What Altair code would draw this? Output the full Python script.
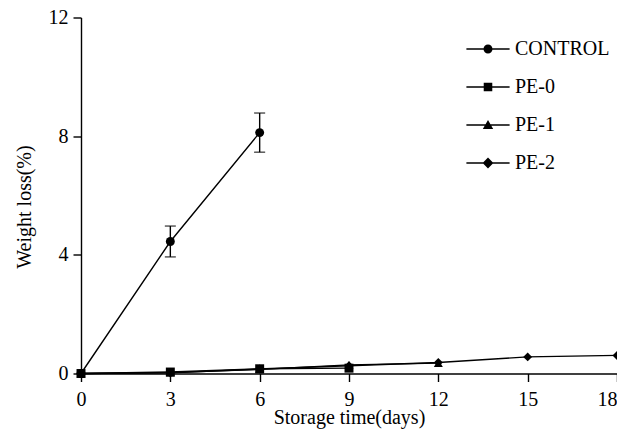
import altair as alt
import pandas as pd

# ---- data ----
series_names = ["CONTROL", "PE-0", "PE-1", "PE-2"]

control_days = [0, 3, 6]
control_loss = [0.0, 4.45, 8.12]
control_err = [0.0, 0.52, 0.66]

pe0_days = [0, 3, 6, 9]
pe0_loss = [0.0, 0.05, 0.16, 0.18]

pe1_days = [0, 3, 6, 9, 12]
pe1_loss = [0.0, 0.03, 0.14, 0.29, 0.35]

pe2_days = [0, 3, 6, 9, 12, 15, 18]
pe2_loss = [0.0, 0.02, 0.15, 0.26, 0.37, 0.56, 0.61]

x_ticks = [0, 3, 6, 9, 12, 15, 18]
y_ticks = [0, 4, 8, 12]

# ---- build table ----
rows = []
for name, days, vals in [
    ("CONTROL", control_days, control_loss),
    ("PE-0", pe0_days, pe0_loss),
    ("PE-1", pe1_days, pe1_loss),
    ("PE-2", pe2_days, pe2_loss),
]:
    for d, v in zip(days, vals):
        rows.append({"series": name, "day": d, "loss": v})
df = pd.DataFrame(rows)

err_df = pd.DataFrame({
    "day": control_days,
    "lo": [m - e for m, e in zip(control_loss, control_err)],
    "hi": [m + e for m, e in zip(control_loss, control_err)],
})
err_df = err_df[err_df["day"] > 0]

FONT = "Liberation Serif"
x_enc = alt.X("day:Q", scale=alt.Scale(domain=[0, 18], nice=False),
              axis=alt.Axis(values=x_ticks, title="Storage time(days)",
                            labelPadding=8, titlePadding=-2, labelFlush=False,
                            labelAlign=alt.condition("datum.value == 18",
                                                     alt.value("right"),
                                                     alt.value("center"))))
y_enc = alt.Y("loss:Q", scale=alt.Scale(domain=[0, 12], nice=False),
              axis=alt.Axis(values=y_ticks, title="Weight loss(%)",
                            labelPadding=5, titlePadding=14, titleY=189))

shape_std = alt.Scale(domain=series_names,
                      range=["circle", "square", "triangle-up", "diamond"])

LINE = "M-4.8,-0.16H4.8V0.16H-4.8Z"
legend_paths = [
    LINE + "M-1,0A1,1 0 1,1 1,0A1,1 0 1,1 -1,0Z",
    LINE + "M-0.95,-0.95H0.95V0.95H-0.95Z",
    LINE + "M0,-1.1L1.15,0.9H-1.15Z",
    LINE + "M0,-1.2L1.2,0L0,1.2L-1.2,0Z",
]

base = alt.Chart(df)

lines = base.mark_line(color="black", strokeWidth=1.4).encode(
    x=x_enc, y=y_enc, detail="series:N"
)

points = base.mark_point(filled=True, color="black", size=80, opacity=1).encode(
    x="day:Q", y="loss:Q",
    shape=alt.Shape("series:N", scale=shape_std, legend=None),
)

legend_layer = base.mark_point(filled=True, color="black", size=81, opacity=0).encode(
    x="day:Q", y="loss:Q",
    shape=alt.Shape(
        "series:N",
        scale=alt.Scale(domain=series_names, range=legend_paths),
        legend=alt.Legend(
            title=None, orient="none", legendX=397, legendY=21.5,
            labelFont=FONT, labelFontSize=20, labelColor="black",
            labelOffset=17, rowPadding=18, symbolSize=81,
            symbolFillColor="black", symbolStrokeColor="black",
            symbolStrokeWidth=0, symbolOpacity=1, padding=0,
        ),
    ),
)

err_rule = alt.Chart(err_df).mark_rule(color="black", strokeWidth=1.4).encode(
    x="day:Q", y="lo:Q", y2="hi:Q"
)
cap_lo = alt.Chart(err_df).mark_tick(color="black", orient="horizontal",
                                     size=11, thickness=1.4).encode(x="day:Q", y="lo:Q")
cap_hi = alt.Chart(err_df).mark_tick(color="black", orient="horizontal",
                                     size=11, thickness=1.4).encode(x="day:Q", y="hi:Q")

chart = alt.layer(lines, err_rule, cap_lo, cap_hi, points, legend_layer).resolve_scale(
    shape="independent"
).properties(
    width=536, height=356,
    autosize=alt.AutoSizeParams(type="none"),
    padding={"left": 73, "top": 9.5, "right": 0, "bottom": 55},
).configure_view(stroke=None).configure_axis(
    grid=False, domainColor="black", domainWidth=1.4,
    tickColor="black", tickWidth=1.4, tickSize=8,
    labelFont=FONT, labelFontSize=20, labelColor="black",
    titleFont=FONT, titleFontSize=20, titleFontWeight="normal", titleColor="black",
)

chart.save("out.html", embed_options={"renderer": "svg", "actions": False})
